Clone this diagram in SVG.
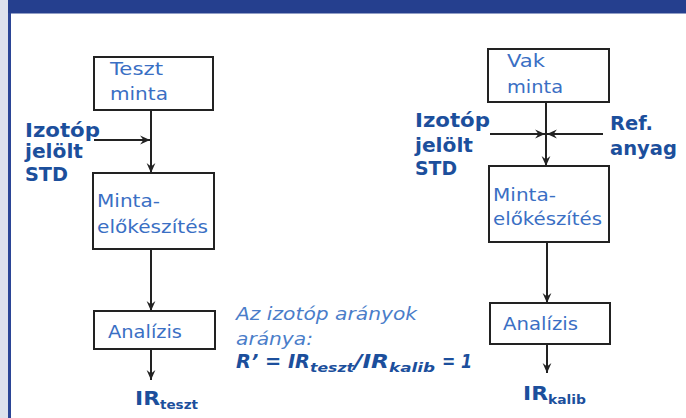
<svg xmlns="http://www.w3.org/2000/svg" width="686" height="418" viewBox="0 0 686 418">
  <style>
    .box { fill: #ffffff; stroke: #222222; stroke-width: 2; }
    .lbl { font-family: "DejaVu Sans", Verdana, sans-serif; font-size: 18px; fill: #3a6fc4; }
    .bold { font-family: "DejaVu Sans", Verdana, sans-serif; font-size: 19px; font-weight: bold; fill: #1c4f9c; }
    .sub { font-family: "DejaVu Sans", Verdana, sans-serif; font-size: 13px; font-weight: bold; fill: #1c4f9c; }
    .ital { font-family: "DejaVu Sans", Verdana, sans-serif; font-size: 18px; font-style: italic; fill: #4a7dc9; }
    .bi { font-family: "DejaVu Sans", Verdana, sans-serif; font-size: 19px; font-style: italic; font-weight: bold; fill: #1c4f9c; }
    .bis { font-family: "DejaVu Sans", Verdana, sans-serif; font-size: 13px; font-style: italic; font-weight: bold; fill: #1c4f9c; }
    .conn { stroke: #222222; stroke-width: 2; fill: none; marker-end: url(#arr); }
  </style>
  <defs>
    <marker id="arr" markerUnits="userSpaceOnUse" markerWidth="11" markerHeight="11" viewBox="0 0 10 10" refX="9" refY="5" orient="auto">
      <path d="M0,1 L9,5 L0,9 L3,5 Z" fill="#222222"/>
    </marker>
  </defs>

  <rect x="0" y="0" width="686" height="418" fill="#ffffff"/>
  <rect x="0" y="0" width="8" height="418" fill="#dde1ed"/>
  <rect x="8" y="0" width="678" height="13.5" fill="#253f8e"/>
  <rect x="8" y="13" width="3" height="405" fill="#2b4596"/>

  <g id="connectors">
    <line class="conn" x1="151" y1="110" x2="151" y2="173"/>
    <line class="conn" x1="94" y1="140" x2="150" y2="140"/>
    <line class="conn" x1="151" y1="249" x2="151" y2="311"/>
    <line class="conn" x1="151" y1="349" x2="151" y2="380"/>
    <line class="conn" x1="546" y1="102" x2="546" y2="166"/>
    <line class="conn" x1="490" y1="134" x2="545" y2="134"/>
    <line class="conn" x1="603" y1="134" x2="547" y2="134"/>
    <line class="conn" x1="547" y1="242" x2="547" y2="303"/>
    <line class="conn" x1="547" y1="344" x2="547" y2="373"/>
  </g>

  <g id="teszt-minta">
    <rect class="box" x="94" y="57" width="119" height="53"/>
    <text class="lbl" x="110" y="75" textLength="53" lengthAdjust="spacingAndGlyphs">Teszt</text>
    <text class="lbl" x="110" y="100" textLength="58" lengthAdjust="spacingAndGlyphs">minta</text>
  </g>
  <g id="izotop-left">
    <text class="bold" x="25" y="137" textLength="75" lengthAdjust="spacingAndGlyphs">Izotóp</text>
    <text class="bold" x="25" y="158" textLength="58" lengthAdjust="spacingAndGlyphs">jelölt</text>
    <text class="bold" x="25" y="181" textLength="43" lengthAdjust="spacingAndGlyphs">STD</text>
  </g>
  <g id="minta-left">
    <rect class="box" x="93" y="173" width="121" height="76"/>
    <text class="lbl" x="97" y="207" textLength="63" lengthAdjust="spacingAndGlyphs">Minta-</text>
    <text class="lbl" x="97" y="233" textLength="111" lengthAdjust="spacingAndGlyphs">előkészítés</text>
  </g>
  <g id="analizis-left">
    <rect class="box" x="94" y="311" width="121" height="38"/>
    <text class="lbl" x="108" y="338" textLength="74" lengthAdjust="spacingAndGlyphs">Analízis</text>
  </g>
  <g id="ir-teszt">
    <text class="bold" x="135" y="405" textLength="25" lengthAdjust="spacingAndGlyphs">IR</text>
    <text class="sub" x="160" y="409" textLength="38" lengthAdjust="spacingAndGlyphs">teszt</text>
  </g>

  <g id="formula">
    <text class="ital" x="236" y="320" textLength="181" lengthAdjust="spacingAndGlyphs">Az izotóp arányok</text>
    <text class="ital" x="236" y="345" textLength="77" lengthAdjust="spacingAndGlyphs">aránya:</text>
    <text class="bi" x="236" y="368" textLength="74" lengthAdjust="spacingAndGlyphs">R’ = IR</text>
    <text class="bis" x="310" y="372" textLength="44" lengthAdjust="spacingAndGlyphs">teszt</text>
    <text class="bi" x="354" y="368" textLength="35" lengthAdjust="spacingAndGlyphs">/IR</text>
    <text class="bis" x="389" y="372" textLength="46" lengthAdjust="spacingAndGlyphs">kalib</text>
    <text class="bi" x="442" y="368" textLength="30" lengthAdjust="spacingAndGlyphs">= 1</text>
  </g>

  <g id="vak-minta">
    <rect class="box" x="488" y="49" width="121" height="53"/>
    <text class="lbl" x="507" y="67" textLength="38" lengthAdjust="spacingAndGlyphs">Vak</text>
    <text class="lbl" x="507" y="93" textLength="56" lengthAdjust="spacingAndGlyphs">minta</text>
  </g>
  <g id="izotop-right">
    <text class="bold" x="415" y="127" textLength="75" lengthAdjust="spacingAndGlyphs">Izotóp</text>
    <text class="bold" x="415" y="152" textLength="58" lengthAdjust="spacingAndGlyphs">jelölt</text>
    <text class="bold" x="415" y="175" textLength="42" lengthAdjust="spacingAndGlyphs">STD</text>
  </g>
  <g id="ref-anyag">
    <text class="bold" x="610" y="130" textLength="43" lengthAdjust="spacingAndGlyphs">Ref.</text>
    <text class="bold" x="610" y="155" textLength="67" lengthAdjust="spacingAndGlyphs">anyag</text>
  </g>
  <g id="minta-right">
    <rect class="box" x="489" y="166" width="120" height="76"/>
    <text class="lbl" x="493" y="201" textLength="63" lengthAdjust="spacingAndGlyphs">Minta-</text>
    <text class="lbl" x="493" y="225" textLength="109" lengthAdjust="spacingAndGlyphs">előkészítés</text>
  </g>
  <g id="analizis-right">
    <rect class="box" x="490" y="303" width="120" height="41"/>
    <text class="lbl" x="503" y="330" textLength="75" lengthAdjust="spacingAndGlyphs">Analízis</text>
  </g>
  <g id="ir-kalib">
    <text class="bold" x="523" y="400" textLength="25" lengthAdjust="spacingAndGlyphs">IR</text>
    <text class="sub" x="548" y="404" textLength="38" lengthAdjust="spacingAndGlyphs">kalib</text>
  </g>
</svg>
